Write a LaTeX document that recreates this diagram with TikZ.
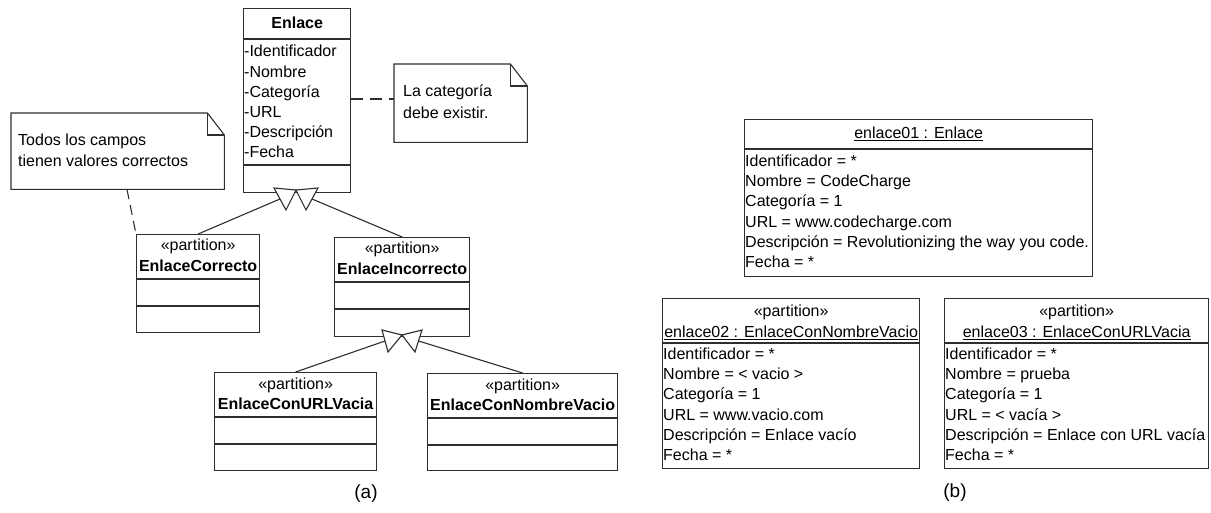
\documentclass[tikz,border=0pt]{standalone}
\usepackage{fontspec}
\setmainfont{Liberation Sans}
\usetikzlibrary{positioning}
\definecolor{umlline}{HTML}{2E2E2E}

\tikzset{
  cls/.style={draw=umlline, line width=1.3pt, anchor=north west, inner sep=0pt},
  notebox/.style={anchor=north west, inner sep=0pt},
  sepline/.style={draw=umlline, line width=1.3pt},
  txt/.style={inner sep=0pt, anchor=base west, font=\fontsize{16}{19}\selectfont},
  ctxt/.style={inner sep=0pt, anchor=base, font=\fontsize{16}{19}\selectfont},
  bold/.style={font=\fontsize{16}{19}\selectfont\bfseries},
  link/.style={draw=umlline, line width=1.1pt},
  gen/.style={draw=umlline, line width=1.1pt, fill=white, line join=miter},
  anchorline/.style={draw=umlline, line width=1.1pt, dash pattern=on 12pt off 7pt},
  caption/.style={inner sep=0pt, font=\fontsize{19}{22}\selectfont},
}

\begin{document}
\begin{tikzpicture}[x=1pt, y=-1pt]
  \useasboundingbox (0,0) rectangle (1211,513);

  % (a) class Enlace
  \node[cls, minimum width=107pt, minimum height=184pt] (enlace) at (243,8) {};
  \draw[sepline] ([yshift=-31pt]enlace.north west) -- ([yshift=-31pt]enlace.north east);
  \draw[sepline] ([yshift=-157pt]enlace.north west) -- ([yshift=-157pt]enlace.north east);
  \node[ctxt, bold] (enlace-ttl) at ([yshift=-20.5pt]enlace.north) {Enlace};
  \foreach \attr [count=\i] in {Identificador,Nombre,Categoría,URL,Descripción,Fecha}
    \node[txt] (enlace-att\i) at ([xshift=1pt, yshift={-(49+20.1*(\i-1))*1pt}]enlace.north west) {-\attr};

  % partitions
  \foreach \nm/\x/\y/\w/\h/\ttl in {corr/136/234/123/98/EnlaceCorrecto,
      incorr/334/237/135/99/EnlaceIncorrecto,
      urlv/214/372/162/98/EnlaceConURLVacia,
      nomv/427/373/190/97/EnlaceConNombreVacio} {
    \node[cls, minimum width=\w pt, minimum height=\h pt] (\nm) at (\x,\y) {};
    \draw[sepline] ([yshift=-45pt]\nm.north west) -- ([yshift=-45pt]\nm.north east);
    \draw[sepline] ([yshift=-72pt]\nm.north west) -- ([yshift=-72pt]\nm.north east);
    \node[ctxt] (\nm-st) at ([yshift=-17pt]\nm.north) {«partition»};
    \node[ctxt, bold] (\nm-ttl) at ([yshift=-37.5pt]\nm.north) {\ttl};
  }

  % generalizations
  \coordinate (ga1) at (274,188); \coordinate (ga2) at (296,190); \coordinate (ga3) at (318,188);
  \coordinate (gatl) at (286,210); \coordinate (gatr) at (306,210);
  \coordinate (gaL) at (280,199); \coordinate (gaR) at (312,199);
  \draw[link] (corr.north) -- (gaL);
  \draw[link] (incorr.north) -- (gaR);
  \draw[gen] (ga1) -- (ga2) -- (gatl) -- cycle;
  \draw[gen] (ga2) -- (ga3) -- (gatr) -- cycle;

  \coordinate (gb1) at (382,330); \coordinate (gb2) at (402,335); \coordinate (gb3) at (422,330);
  \coordinate (gbtl) at (388,352); \coordinate (gbtr) at (415,352);
  \coordinate (gbL) at (385,341); \coordinate (gbR) at (418.5,341);
  \draw[link] (urlv.north) -- (gbL);
  \draw[link] (nomv.north) -- (gbR);
  \draw[gen] (gb1) -- (gb2) -- (gbtl) -- cycle;
  \draw[gen] (gb2) -- (gb3) -- (gbtr) -- cycle;

  % notes
  \node[notebox, minimum width=133pt, minimum height=78pt] (catnote) at (394,64) {};
  \draw[link] (catnote.north west) -- ([xshift=-17pt]catnote.north east)
    -- ([yshift=-22pt]catnote.north east) -- (catnote.south east) -- (catnote.south west) -- cycle;
  \draw[link] ([xshift=-17pt]catnote.north east) -- ([xshift=-17pt, yshift=-22pt]catnote.north east)
    -- ([yshift=-22pt]catnote.north east);
  \node[txt] (catnote-l1) at ([xshift=9pt, yshift=-33pt]catnote.north west) {La categoría};
  \node[txt] (catnote-l2) at ([xshift=9pt, yshift=-54.5pt]catnote.north west) {debe existir.};
  \draw[anchorline] ([yshift=-91pt]enlace.north east) -- ([yshift=-35pt]catnote.north west);

  \node[notebox, minimum width=213pt, minimum height=76pt] (todonote) at (11,113) {};
  \draw[link] (todonote.north west) -- ([xshift=-17pt]todonote.north east)
    -- ([yshift=-22pt]todonote.north east) -- (todonote.south east) -- (todonote.south west) -- cycle;
  \draw[link] ([xshift=-17pt]todonote.north east) -- ([xshift=-17pt, yshift=-22pt]todonote.north east)
    -- ([yshift=-22pt]todonote.north east);
  \node[txt] (todonote-l1) at ([xshift=7pt, yshift=-32.5pt]todonote.north west) {Todos los campos};
  \node[txt] (todonote-l2) at ([xshift=7pt, yshift=-53.5pt]todonote.north west) {tienen valores correctos};
  \draw[anchorline, dash pattern=on 10pt off 6pt] ([xshift=116pt]todonote.south west) -- (corr.north west);

  % (b) objects
  \node[cls, minimum width=348pt, minimum height=157pt] (e01) at (744,119) {};
  \draw[sepline] ([yshift=-30pt]e01.north west) -- ([yshift=-30pt]e01.north east);
  \node[ctxt] (e01-ttl) at ([yshift=-19.5pt]e01.north) {\underline{enlace01 : Enlace}};
  \foreach \attr [count=\i] in {{Identificador = *},{Nombre = CodeCharge},{Categoría = 1},
      {URL = www.codecharge.com},{Descripción = Revolutionizing the way you code.},{Fecha = *}}
    \node[txt] (e01-att\i) at ([xshift=1pt, yshift={-(47.5+20.2*(\i-1))*1pt}]e01.north west) {\attr};

  \foreach \nm/\x/\w/\ttl in {e02/662/257/{enlace02 : EnlaceConNombreVacio},
      e03/944/264/{enlace03 : EnlaceConURLVacia}} {
    \node[cls, minimum width=\w pt, minimum height=170pt] (\nm) at (\x,298) {};
    \draw[sepline] ([yshift=-45pt]\nm.north west) -- ([yshift=-45pt]\nm.north east);
    \node[ctxt] (\nm-st) at ([yshift=-18.5pt]\nm.north) {«partition»};
    \node[ctxt] (\nm-ttl) at ([yshift=-39.5pt]\nm.north) {\underline{\ttl}};
  }
  \foreach \attr [count=\i] in {{Identificador = *},{Nombre = < vacio >},{Categoría = 1},
      {URL = www.vacio.com},{Descripción = Enlace vacío},{Fecha = *}}
    \node[txt] (e02-att\i) at ([xshift=1pt, yshift={-(61.5+20.2*(\i-1))*1pt}]e02.north west) {\attr};
  \foreach \attr [count=\i] in {{Identificador = *},{Nombre = prueba},{Categoría = 1},
      {URL = < vacía >},{Descripción = Enlace con URL vacía},{Fecha = *}}
    \node[txt] (e03-att\i) at ([xshift=1pt, yshift={-(61.5+20.2*(\i-1))*1pt}]e03.north west) {\attr};

  % captions
  \node[caption] (capa) at (366,494) {(a)};
  \node[caption] (capb) at (955,493) {(b)};
\end{tikzpicture}
\end{document}
